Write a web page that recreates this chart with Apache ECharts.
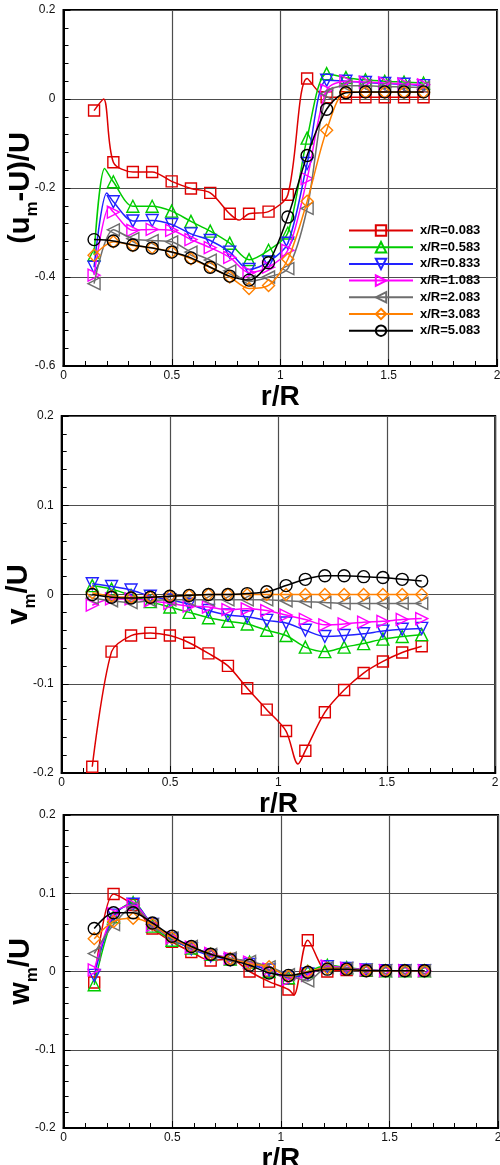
<!DOCTYPE html>
<html>
<head>
<meta charset="utf-8">
<script src="https://cdn.jsdelivr.net/npm/echarts@6/dist/echarts.min.js"></script>
<style>
html, body { margin: 0; padding: 0; background: #fff; }
#main { width: 500px; height: 1165px; }
</style>
</head>
<body>
<div id="main"></div>
<script>
// radial stations where markers are drawn
const rR = [0.141, 0.230, 0.320, 0.409, 0.499, 0.588, 0.677, 0.767, 0.856,
            0.946, 1.035, 1.124, 1.214, 1.303, 1.393, 1.482, 1.571, 1.661];

const seriesNames = ['x/R=0.083', 'x/R=0.583', 'x/R=0.833', 'x/R=1.083', 'x/R=2.083', 'x/R=3.083', 'x/R=5.083'];
const colors = ['#dd0000', '#00cc00', '#2222ff', '#ff00ff', '#6e6e6e', '#ff8000', '#000000'];
const symbols = ['rect', 'triangle', 'triangle', 'triangle', 'triangle', 'diamond', 'circle'];
const rotations = [0, 0, 180, -90, 90, 0, 0];

// (u_m-U)/U
const uVals = [
    [-0.026, -0.142, -0.164, -0.164, -0.185, -0.201, -0.211, -0.258, -0.258, -0.253, -0.215, 0.046, 0.004, 0.004, 0.004, 0.004, 0.004, 0.004],
    [-0.350, -0.186, -0.241, -0.241, -0.252, -0.275, -0.297, -0.324, -0.361, -0.340, -0.301, -0.088, 0.057, 0.048, 0.043, 0.040, 0.038, 0.036],
    [-0.378, -0.231, -0.274, -0.273, -0.282, -0.303, -0.318, -0.344, -0.383, -0.366, -0.324, -0.145, 0.042, 0.040, 0.037, 0.035, 0.033, 0.030],
    [-0.396, -0.254, -0.295, -0.293, -0.295, -0.316, -0.334, -0.356, -0.390, -0.378, -0.340, -0.179, 0.020, 0.040, 0.038, 0.036, 0.034, 0.032],
    [-0.415, -0.294, -0.314, -0.318, -0.321, -0.344, -0.362, -0.386, -0.410, -0.400, -0.381, -0.246, 0.012, 0.030, 0.030, 0.028, 0.027, 0.026],
    [-0.351, -0.321, -0.329, -0.334, -0.344, -0.359, -0.378, -0.400, -0.426, -0.419, -0.360, -0.230, -0.070, 0.016, 0.015, 0.015, 0.015, 0.015],
    [-0.316, -0.319, -0.328, -0.335, -0.344, -0.357, -0.378, -0.398, -0.407, -0.368, -0.265, -0.127, -0.023, 0.014, 0.016, 0.016, 0.016, 0.016]
];
// line-only points between markers
const uExtra = [[[0.185, 0.0], [0.81, -0.272]], [[0.19, -0.156]], [[0.20, -0.211]], [[0.21, -0.243]], [], [], []];

// v_m/U
const vVals = [
    [-0.193, -0.064, -0.046, -0.043, -0.046, -0.054, -0.066, -0.080, -0.105, -0.129, -0.153, -0.175, -0.132, -0.107, -0.088, -0.075, -0.065, -0.058],
    [0.010, 0.006, -0.001, -0.008, -0.014, -0.020, -0.026, -0.030, -0.033, -0.040, -0.046, -0.059, -0.064, -0.059, -0.055, -0.050, -0.047, -0.045],
    [0.012, 0.009, 0.005, -0.002, -0.006, -0.011, -0.018, -0.023, -0.025, -0.029, -0.032, -0.040, -0.047, -0.046, -0.044, -0.041, -0.039, -0.038],
    [-0.012, -0.005, -0.005, -0.007, -0.010, -0.013, -0.014, -0.017, -0.016, -0.018, -0.023, -0.028, -0.034, -0.033, -0.031, -0.030, -0.028, -0.027],
    [-0.004, -0.007, -0.009, -0.007, -0.006, -0.006, -0.006, -0.006, -0.006, -0.006, -0.007, -0.008, -0.009, -0.010, -0.010, -0.010, -0.010, -0.010],
    [0.002, -0.002, -0.003, -0.003, -0.002, -0.001, 0.000, 0.000, 0.000, 0.000, 0.000, 0.000, 0.000, 0.000, 0.000, 0.000, 0.000, 0.000],
    [0.000, -0.003, -0.004, -0.003, -0.002, -0.001, 0.000, 0.000, 0.001, 0.003, 0.010, 0.017, 0.021, 0.021, 0.020, 0.019, 0.017, 0.015]
];
const vExtra = [[[1.09, -0.19]], [], [], [], [], [], []];

// w_m/U
const wVals = [
    [-0.014, 0.099, 0.085, 0.055, 0.038, 0.025, 0.014, 0.016, 0.000, -0.013, -0.023, 0.040, 0.000, 0.002, 0.001, 0.001, 0.001, 0.001],
    [-0.017, 0.070, 0.088, 0.058, 0.040, 0.030, 0.022, 0.016, 0.012, 0.000, -0.008, 0.000, 0.008, 0.005, 0.002, 0.001, 0.001, 0.001],
    [-0.005, 0.072, 0.086, 0.060, 0.042, 0.029, 0.020, 0.015, 0.009, 0.002, -0.008, -0.003, 0.006, 0.004, 0.002, 0.001, 0.001, 0.001],
    [0.002, 0.074, 0.085, 0.059, 0.043, 0.031, 0.023, 0.017, 0.012, 0.003, -0.010, -0.005, 0.007, 0.004, 0.002, 0.001, 0.001, 0.001],
    [0.023, 0.060, 0.082, 0.060, 0.043, 0.032, 0.022, 0.017, 0.013, 0.006, -0.004, -0.012, 0.005, 0.004, 0.002, 0.001, 0.001, 0.001],
    [0.042, 0.064, 0.068, 0.060, 0.043, 0.031, 0.022, 0.016, 0.010, 0.006, -0.006, 0.000, 0.004, 0.003, 0.001, 0.001, 0.001, 0.001],
    [0.055, 0.075, 0.075, 0.062, 0.045, 0.032, 0.022, 0.015, 0.008, -0.002, -0.005, -0.001, 0.003, 0.003, 0.001, 0.001, 0.001, 0.001]
];
const wExtra = [[[1.06, -0.03]], [], [], [], [], [], []];

const FONT = 'Liberation Sans, Arial, sans-serif';

function buildData(vals, extra) {
    const pts = vals.map((v, i) => ({ value: [rR[i], v] }));
    extra.forEach(p => pts.push({ value: p, symbol: 'none' }));
    pts.sort((a, b) => a.value[0] - b.value[0]);
    return pts;
}

function makeXAxis(idx) {
    return {
        gridIndex: idx, type: 'value', min: 0, max: 2, interval: 0.5,
        name: 'r/R', nameLocation: 'middle', nameGap: 7,
        nameTextStyle: { fontFamily: FONT, fontSize: 28, fontWeight: 'bold', color: '#000' },
        axisLine: { onZero: false, lineStyle: { color: '#000', width: 2 } },
        axisTick: { inside: true, length: 7, lineStyle: { color: '#000' } },
        minorTick: { show: true, splitNumber: 5, length: 5, lineStyle: { color: '#000' } },
        axisLabel: { fontFamily: FONT, fontSize: 12, color: '#111', margin: 4 },
        splitLine: { show: true, lineStyle: { color: '#4d4d4d', width: 1.2 } }
    };
}

function makeYAxis(idx, min, max, interval, sym) {
    return {
        gridIndex: idx, type: 'value', min: min, max: max, interval: interval,
        name: sym, nameLocation: 'middle', nameRotate: 90, nameGap: 23,
        nameMoveOverlap: false,
        nameTextStyle: {
            rich: {
                b: { fontFamily: FONT, fontSize: 29, fontWeight: 'bold', color: '#000', lineHeight: 34, verticalAlign: 'top' },
                s: { fontFamily: FONT, fontSize: 17, fontWeight: 'bold', color: '#000', lineHeight: 17, verticalAlign: 'bottom' }
            }
        },
        axisLine: { onZero: false, lineStyle: { color: '#000', width: 2 } },
        axisTick: { inside: true, length: 7, lineStyle: { color: '#000' } },
        minorTick: { show: true, splitNumber: 5, length: 5, lineStyle: { color: '#000' } },
        axisLabel: { fontFamily: FONT, fontSize: 12, color: '#111', margin: 8 },
        splitLine: { show: true, lineStyle: { color: '#4d4d4d', width: 1.2 } }
    };
}

function makeSeries(idx, allVals, allExtra) {
    return allVals.map((vals, k) => ({
        name: seriesNames[k],
        type: 'line',
        xAxisIndex: idx, yAxisIndex: idx,
        data: buildData(vals, allExtra[k]),
        smooth: 0.3,
        symbol: symbols[k],
        symbolRotate: rotations[k],
        symbolSize: symbols[k] === 'rect' ? 11 : 12,
        showAllSymbol: true,
        lineStyle: { color: colors[k], width: 1.5 },
        itemStyle: { color: 'rgba(255,255,255,0)', borderColor: colors[k], borderWidth: 1.4 },
        emphasis: { disabled: true },
        z: 2 + k
    }));
}

const chart = echarts.init(document.getElementById('main'), null, { renderer: 'canvas' });

const grids = [
    { left: 63.5, top: 10, width: 433.5, height: 356 },
    { left: 61.7, top: 416, width: 433.5, height: 357 },
    { left: 63.6, top: 815, width: 434.5, height: 313 }
].map(g => Object.assign({
    show: true, borderColor: '#000', borderWidth: 2, backgroundColor: 'transparent',
    containLabel: false, outerBoundsMode: 'none'
}, g));

const option = {
    animation: false,
    backgroundColor: '#fff',
    grid: grids,
    legend: {
        data: seriesNames,
        orient: 'vertical',
        left: 343, top: 219,
        itemWidth: 64, itemHeight: 13, itemGap: 3.7,
        textStyle: { fontFamily: FONT, fontSize: 13, fontWeight: 'bold', color: '#000', padding: [0, 0, 0, 2] }
    },
    xAxis: [makeXAxis(0), makeXAxis(1), makeXAxis(2)],
    yAxis: [
        makeYAxis(0, -0.6, 0.2, 0.2, '{b|(u}{s|m}{b|-U)/U}'),
        makeYAxis(1, -0.2, 0.2, 0.1, '{b|v}{s|m}{b|/U}'),
        makeYAxis(2, -0.2, 0.2, 0.1, '{b|w}{s|m}{b|/U}')
    ],
    series: [].concat(
        makeSeries(0, uVals, uExtra),
        makeSeries(1, vVals, vExtra),
        makeSeries(2, wVals, wExtra)
    )
};
chart.setOption(option);
</script>
</body>
</html>
